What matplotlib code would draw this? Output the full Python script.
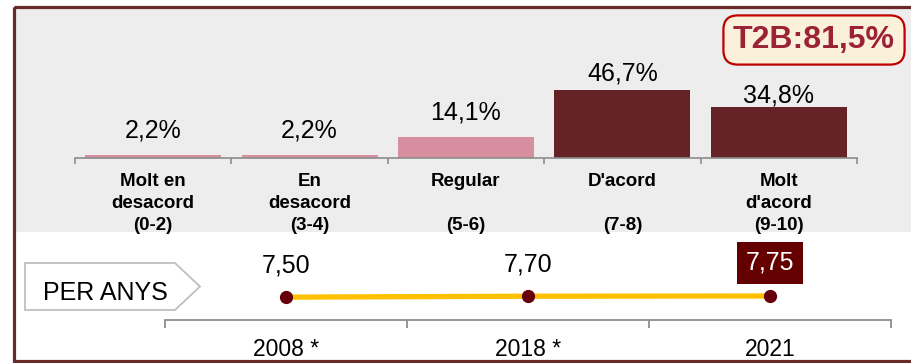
import matplotlib.pyplot as plt
from matplotlib.patches import Rectangle, Polygon

plt.rcParams['font.family'] = ['Liberation Sans', 'DejaVu Sans']

# Agreement distribution (%)
categories = ["Molt en\ndesacord\n(0-2)", "En\ndesacord\n(3-4)", "Regular\n\n(5-6)",
              "D'acord\n\n(7-8)", "Molt\nd'acord\n(9-10)"]
shares = [2.2, 2.2, 14.1, 46.7, 34.8]
share_labels = ["2,2%", "2,2%", "14,1%", "46,7%", "34,8%"]
t2b_label = "T2B:81,5%"

# Mean score per survey year
years = ["2008 *", "2018 *", "2021"]
scores = [7.50, 7.70, 7.75]
score_labels = ["7,50", "7,70", "7,75"]

W, H = 912, 363
PINK = '#D78E9E'
MAROON = '#652327'
FRAME = '#6B2A2A'
GRID_GRAY = '#8C8C8C'

fig = plt.figure(figsize=(W / 100, H / 100), dpi=100)


def px_rect(x0, y0, x1, y1):
    return [x0 / W, 1 - y1 / H, (x1 - x0) / W, (y1 - y0) / H]


# background panel, frame and the "PER ANYS" tag
bg = fig.add_axes([0, 0, 1, 1], zorder=0)
bg.set_xlim(0, W)
bg.set_ylim(H, 0)
bg.axis('off')
bg.add_patch(Rectangle((16, 8), W - 16, 224, facecolor='#EDEDED', edgecolor='none'))
bg.add_patch(Rectangle((14, 6.5), W + 20, 354, facecolor='none', edgecolor=FRAME, lw=2.3))
bg.add_patch(Polygon([(25, 263), (175, 263), (200, 286.5), (175, 310), (25, 310)],
                     closed=True, facecolor='white', edgecolor='#BFBFBF', lw=1.3))
bg.text(105, 300, "PER ANYS", ha='center', va='baseline', fontsize=18, color='black')

# bar chart
ax = fig.add_axes(px_rect(75, 8, 857, 158), zorder=1)
ax.patch.set_alpha(0)
x = list(range(len(shares)))
colors = [PINK, PINK, PINK, MAROON, MAROON]
bars = ax.bar(x, shares, width=0.87, color=colors)
ax.set_xlim(-0.5, len(shares) - 0.5)
ax.set_ylim(0, 103)
for s in ['top', 'right', 'left']:
    ax.spines[s].set_visible(False)
ax.spines['bottom'].set_color(GRID_GRAY)
ax.spines['bottom'].set_linewidth(1.2)
ax.set_yticks([])
ax.set_xticks(x)
ax.set_xticklabels(categories, fontsize=13.5, fontweight='bold', linespacing=1.38)
ax.set_xticks([i - 0.5 for i in range(len(shares) + 1)], minor=True)
ax.tick_params(axis='x', which='major', length=0, pad=11)
ax.tick_params(axis='x', which='minor', length=4, width=1.2, color=GRID_GRAY, direction='out')

label_gap = [12.5, 12.5, 13, 6.5, 3.5]
for b, lab, gap in zip(bars, share_labels, label_gap):
    ax.annotate(lab, (b.get_x() + b.get_width() / 2, b.get_height()),
                xytext=(0, gap), textcoords='offset points',
                ha='center', va='baseline', fontsize=18)

fig.text(814 / W, 1 - 40 / H, t2b_label, ha='center', va='center', fontsize=23,
         fontweight='bold', color='#9B2335',
         bbox=dict(boxstyle='round,pad=0.3,rounding_size=0.45', facecolor='#FBF0DA',
                   edgecolor='#C00000', lw=1.6))

# yearly trend
lx = fig.add_axes(px_rect(165, 240, 891, 320), zorder=1)
lx.patch.set_alpha(0)
yx = list(range(len(scores)))
lx.plot(yx, scores, color='#FFC000', lw=3.8, solid_capstyle='butt', zorder=2)
lx.plot(yx, scores, 'o', color='#65000B', markersize=8.5, zorder=3)
lx.set_xlim(-0.5, len(scores) - 0.5)
lx.set_ylim(2.5, 20)
for s in ['top', 'right', 'left']:
    lx.spines[s].set_visible(False)
lx.spines['bottom'].set_color(GRID_GRAY)
lx.spines['bottom'].set_linewidth(1.3)
lx.set_yticks([])
lx.set_xticks(yx)
lx.set_xticklabels(years, fontsize=16.5)
lx.set_xticks([i - 0.5 for i in range(len(scores) + 1)], minor=True)
lx.tick_params(axis='x', which='major', length=0, pad=13)
lx.tick_params(axis='x', which='minor', length=6, width=1.3, color=GRID_GRAY, direction='out')

for i, (v, lab) in enumerate(zip(scores, score_labels)):
    if i == len(scores) - 1:
        lx.annotate(lab, (i, v), xytext=(0, 24), textcoords='offset points',
                    ha='center', va='center', fontsize=18, color='white',
                    bbox=dict(boxstyle='square,pad=0.36', facecolor='#640000', edgecolor='none'))
    else:
        lx.annotate(lab, (i, v), xytext=(0, 23), textcoords='offset points',
                    ha='center', va='center', fontsize=18, color='black')

fig.savefig('out.png', dpi=100)
